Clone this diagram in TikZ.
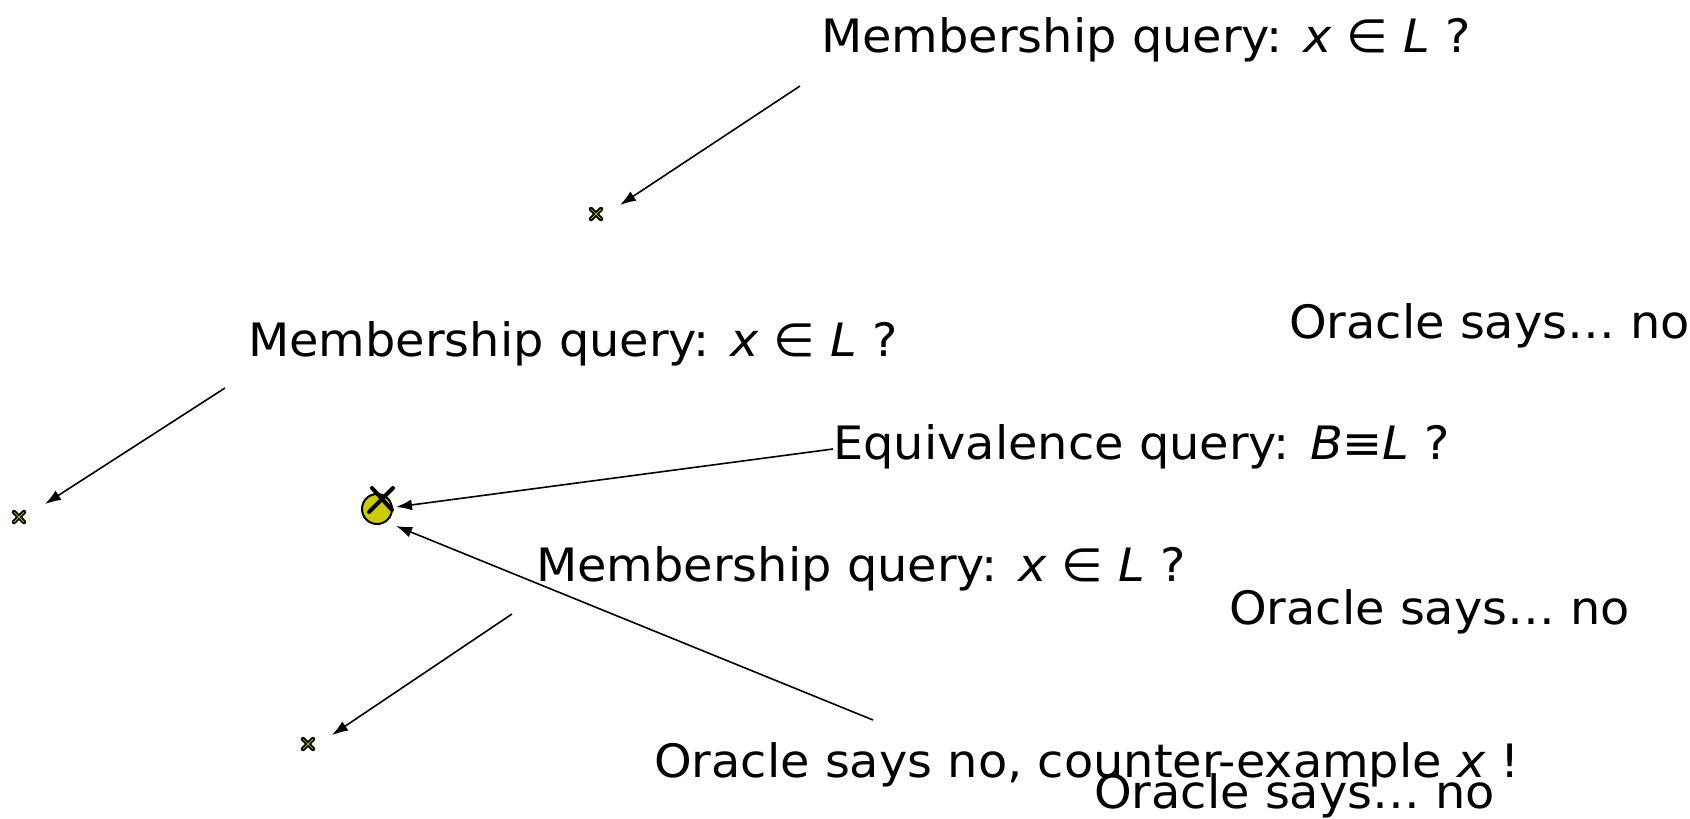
\documentclass[tikz,border=0pt]{standalone}
\usepackage{fontspec}
\setmainfont[FakeStretch=1.04]{DejaVu Sans}
\newfontfamily\obl[FakeStretch=1.04]{DejaVu Sans Oblique}
\usetikzlibrary{arrows.meta}
\definecolor{ptyellow}{RGB}{204,204,0}
\tikzset{
  lbl/.style={anchor=base west, inner sep=0pt, font=\fontsize{46}{54}\selectfont},
  conn/.style={line width=1.6pt, -{Latex[length=16pt,width=11pt]}},
  mk/.style={inner sep=0pt, minimum size=14pt},
}
\newcommand{\mq}{Membership query: {\obl x} ∈ {\obl L} ?}
\newcommand{\osn}{Oracle says… no}
\begin{document}
\begin{tikzpicture}[x=1pt,y=-1pt]
\useasboundingbox (0,0) rectangle (1690,819);
% texts
\node[lbl] (mq1) at (821,52) {\mq};
\node[lbl] (mq2) at (248,356) {\mq};
\node[lbl] (os1) at (1289,338) {\osn};
\node[lbl] (eq) at (833,459) {Equivalence query: {\obl B}≡{\obl L} ?};
\node[lbl] (mq3) at (536,581) {\mq};
\node[lbl] (os2) at (1229,624) {\osn};
\node[lbl] (ce) at (654,777) {Oracle says no, counter-example {\obl x} !};
\node[lbl] (os3) at (1094,808) {\osn};
% markers
\node[mk] (m1) at (596,214) {};
\node[mk] (m2) at (19,517) {};
\node[mk] (m3) at (308,744) {};
\foreach \n in {m1,m2,m3} {
  \draw[line width=4.5pt,black,line cap=round] ([shift={(-5,-5)}]\n.center) -- ([shift={(5,5)}]\n.center);
  \draw[line width=4.5pt,black,line cap=round] ([shift={(5,-5)}]\n.center) -- ([shift={(-5,5)}]\n.center);
  \draw[line width=0.7pt,ptyellow] ([shift={(-5,-5)}]\n.center) -- ([shift={(5,5)}]\n.center);
  \draw[line width=0.7pt,ptyellow] ([shift={(5,-5)}]\n.center) -- ([shift={(-5,5)}]\n.center);
}
% yellow circle with cross
\node[circle, draw=black, line width=2pt, fill=ptyellow, minimum size=30pt, inner sep=0pt] (cx) at (377,509) {};
\draw[line width=4pt, line cap=round] (372,488) -- (392,510);
\draw[line width=4pt, line cap=round] (393,488) -- (369,512);
% connector ends
\coordinate (t1) at (800,86);
\coordinate (t2) at (225,388);
\coordinate (t3) at (833,449);
\coordinate (t4) at (873,720);
\coordinate (t5) at (512,614);
\coordinate (h1) at (620,205);
\coordinate (h2) at (45,504);
\coordinate (h3) at (396,507);
\coordinate (h4) at (396,526);
\coordinate (h5) at (332,735);
\draw[conn] (t1) -- (h1);
\draw[conn] (t2) -- (h2);
\draw[conn] (t3) -- (h3);
\draw[conn] (t4) -- (h4);
\draw[conn] (t5) -- (h5);
\end{tikzpicture}
\end{document}
